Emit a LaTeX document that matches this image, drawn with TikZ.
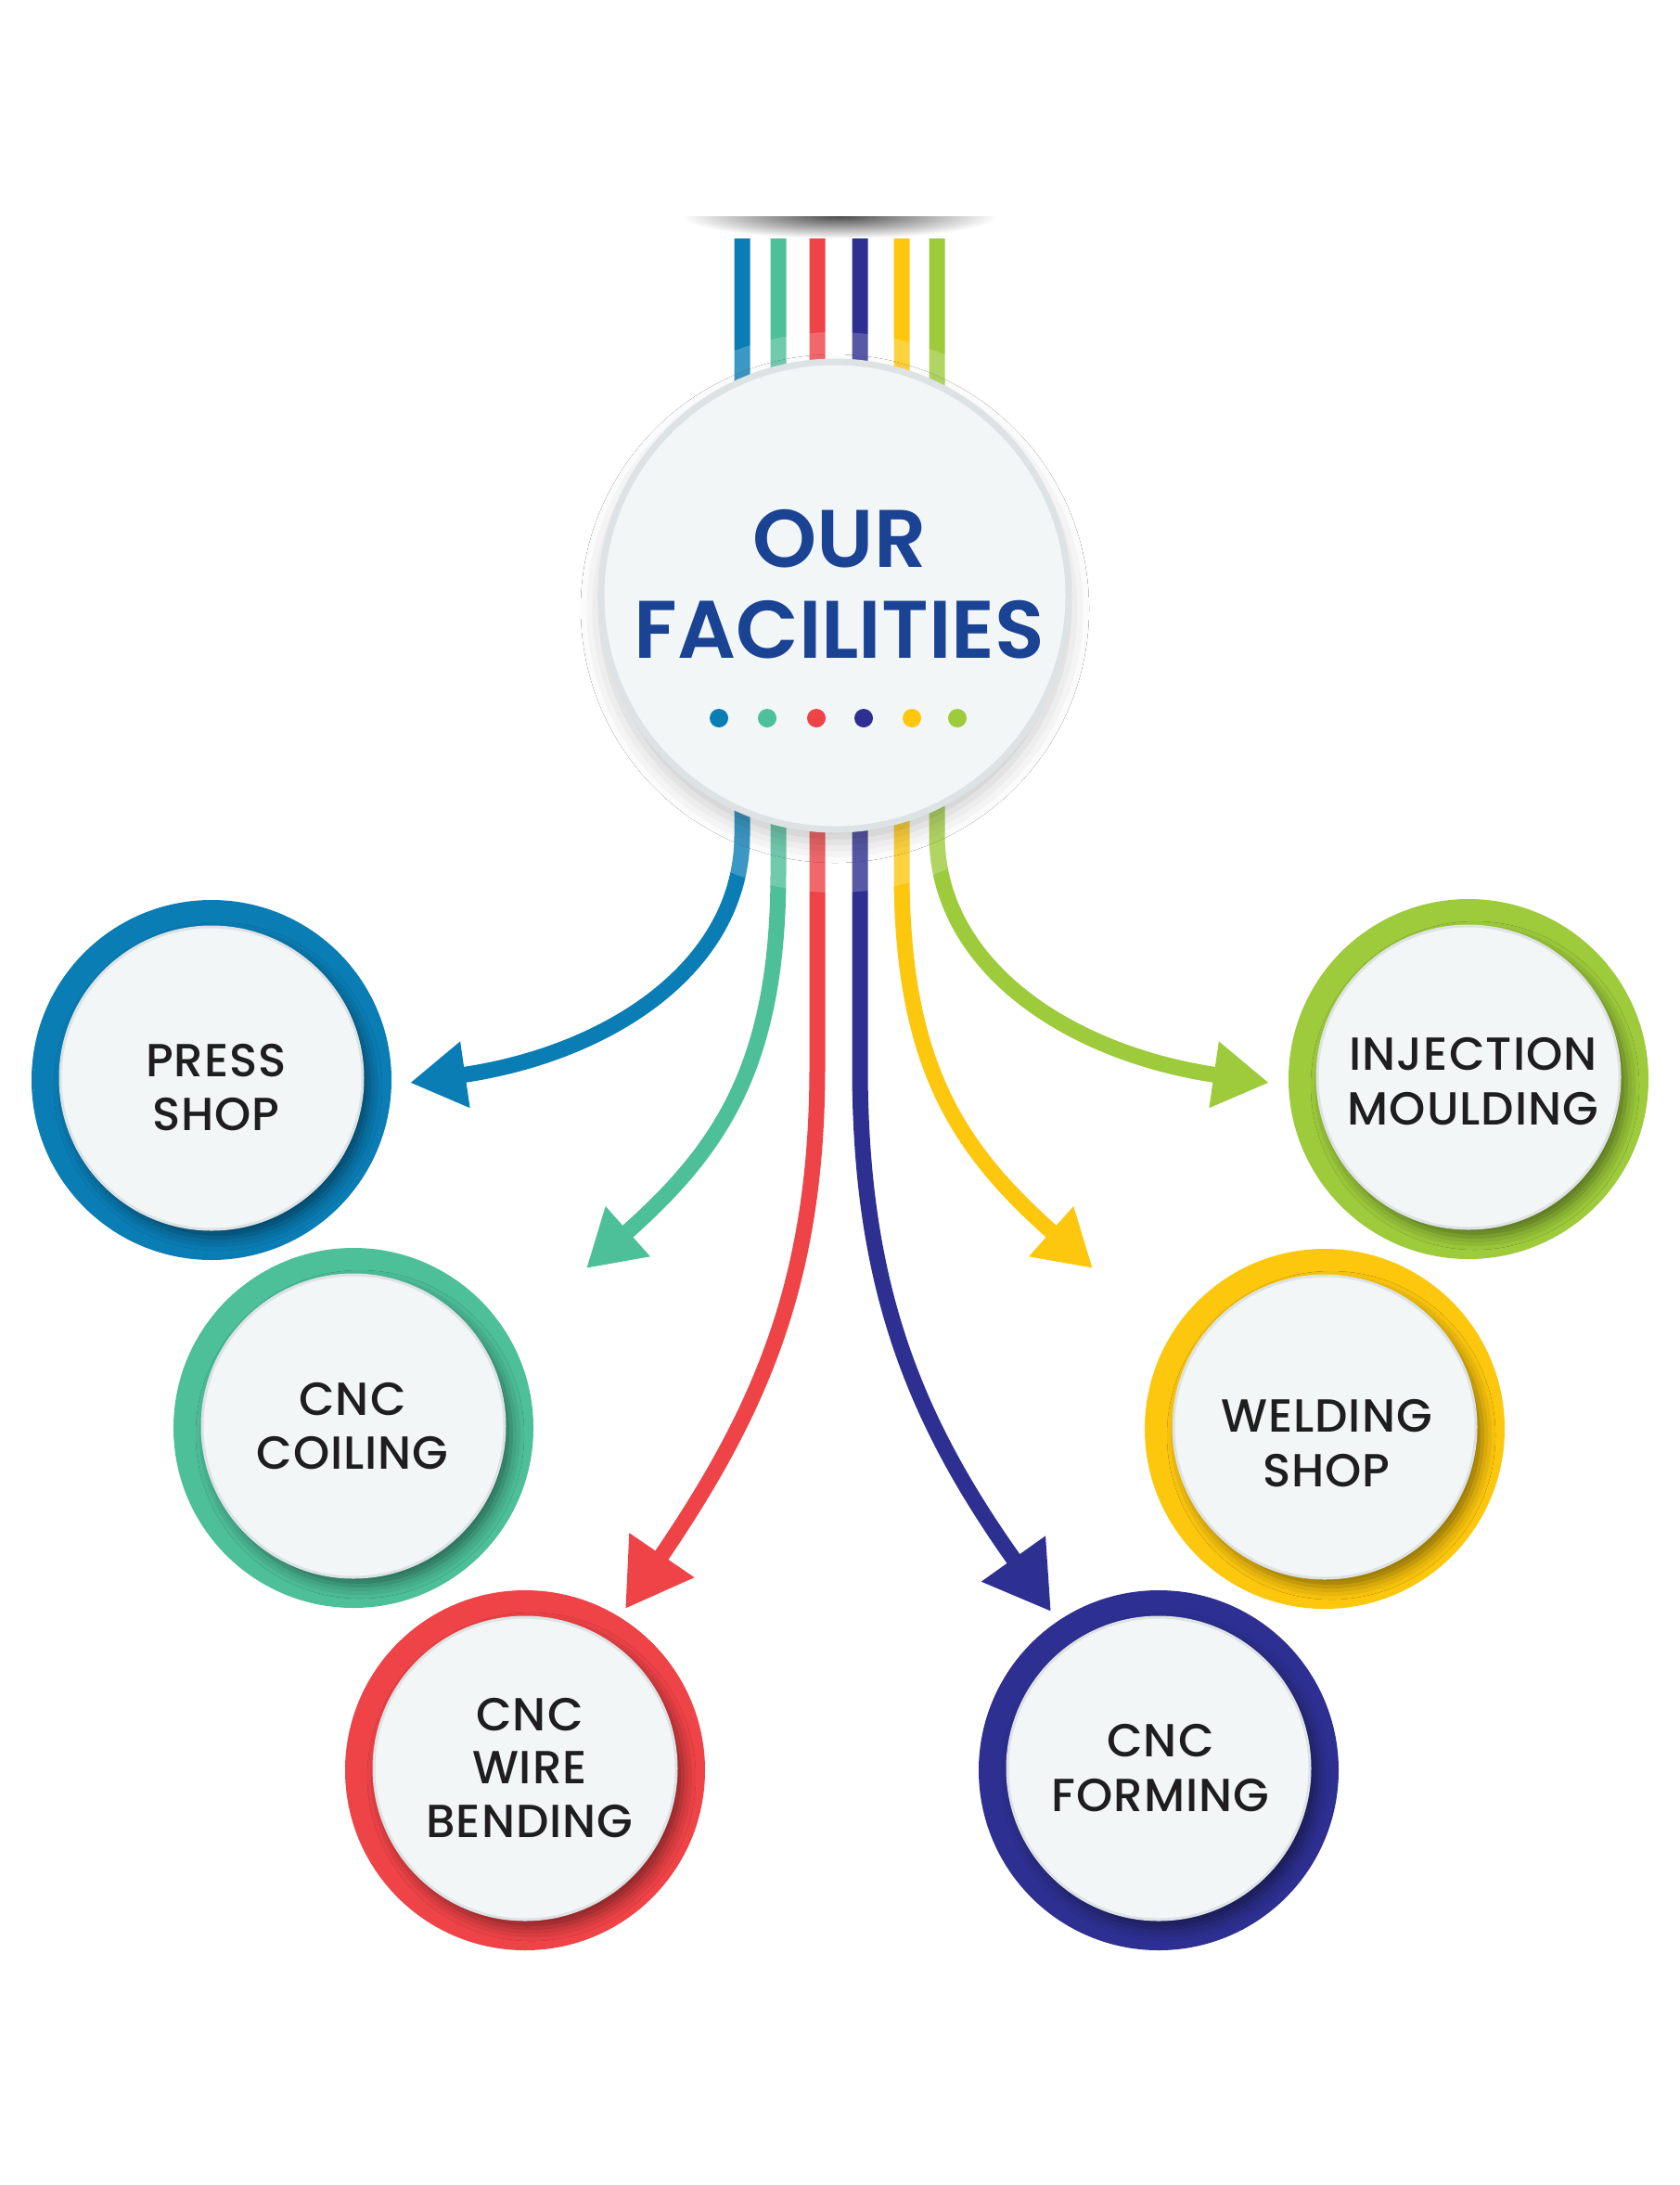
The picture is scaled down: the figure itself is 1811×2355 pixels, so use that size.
\documentclass[tikz,border=0pt]{standalone}
\usepackage{fontspec}
\setmainfont{Poppins}
\IfFontExistsTF{Poppins Medium}
  {\newfontfamily\lblfont{Poppins Medium}[LetterSpace=2]}
  {\newfontfamily\lblfont{Poppins}[FakeBold=1.3,LetterSpace=2]}
\IfFontExistsTF{Poppins SemiBold}
  {\newfontfamily\ttlfont{Poppins SemiBold}}
  {\newfontfamily\ttlfont{Poppins}[FakeBold=2.5]}
\usetikzlibrary{arrows.meta,shadows.blur}
\definecolor{cBlue}{HTML}{0A7DB5}
\definecolor{cTeal}{HTML}{4DBF99}
\definecolor{cRed}{HTML}{EE4347}
\definecolor{cNavy}{HTML}{2E3091}
\definecolor{cYellow}{HTML}{FDC70E}
\definecolor{cGreen}{HTML}{9DCB3B}
\definecolor{titleBlue}{HTML}{1A4393}
\definecolor{labelText}{HTML}{1E1E1E}
\definecolor{discFill}{HTML}{F3F6F7}
\definecolor{discRim}{HTML}{DDE2E4}
\begin{document}
\begin{tikzpicture}[x=1pt,y=-1pt,
  conn/.style={line width=17pt, line cap=butt},
  headS/.style={-{Triangle[length=60pt,width=68pt]}},
  headL/.style={-{Triangle[length=70pt,width=80pt]}},
  ring/.style={circle, fill=#1, minimum size=388pt, inner sep=0pt},
  disc/.style={circle, fill=discFill, draw=discRim, line width=3pt, minimum size=326pt, inner sep=0pt,
    blur shadow={shadow xshift=7pt, shadow yshift=-9pt, shadow blur radius=14pt, shadow opacity=45}},
  lbl/.style={font=\lblfont\fontsize{50}{58}\selectfont, text=labelText, anchor=base, inner sep=0pt},
  ttl/.style={font=\ttlfont\fontsize{88}{98}\selectfont, text=titleBlue, anchor=base, inner sep=0pt},
  dot/.style={circle, fill=#1, minimum size=20pt, inner sep=0pt}
]
\useasboundingbox[fill=white] (0,0) rectangle (1811,2355);

% slot shadow at the top
\begin{scope}
  \clip (700,233) rectangle (1110,262);
  \shade[inner color=black!70, outer color=white] (905,233) ellipse (170 and 24);
\end{scope}

% start and end points of the six connectors
\coordinate (sBlue) at (800,257);
\coordinate (sTeal) at (839,257);
\coordinate (sRed) at (881,257);
\coordinate (sNavy) at (927,257);
\coordinate (sYellow) at (972,257);
\coordinate (sGreen) at (1010,257);
\coordinate (eBlue) at (442,1167);
\coordinate (eTeal) at (632,1367);
\coordinate (eRed) at (674,1734);
\coordinate (eNavy) at (1133,1737);
\coordinate (eYellow) at (1178,1367);
\coordinate (eGreen) at (1368,1167);

% connectors
\draw[conn, cBlue, headS] (sBlue) -- (800,900) .. controls (800,1040) and (660,1135) .. (eBlue);
\draw[conn, cTeal, headS] (sTeal) -- (839,940) .. controls (839,1150) and (775,1240) .. (eTeal);
\draw[conn, cRed, headL] (sRed) -- (881,1150) .. controls (881,1380) and (820,1520) .. (eRed);
\draw[conn, cNavy, headL] (sNavy) -- (927,1150) .. controls (927,1380) and (982,1525) .. (eNavy);
\draw[conn, cYellow, headS] (sYellow) -- (972,940) .. controls (972,1150) and (1035,1240) .. (eYellow);
\draw[conn, cGreen, headS] (sGreen) -- (1010,900) .. controls (1010,1040) and (1150,1135) .. (eGreen);

% light band where the lines meet the hub
\fill[white, opacity=0.2] (900,660) circle (302);

% hub
\node[circle, minimum size=504pt, inner sep=0pt, fill=discFill, draw=discRim, line width=7pt,
  blur shadow={shadow xshift=0pt, shadow yshift=-14pt, shadow blur radius=22pt, shadow opacity=22}]
  (hub) at (900,642) {};
\node[ttl] (tOur) at (905,611) {OUR};
\node[ttl] (tFac) at (905,709) {FACILITIES};
\node[dot=cBlue] (d1) at (775,774) {};
\node[dot=cTeal] (d2) at (827,774) {};
\node[dot=cRed] (d3) at (880,774) {};
\node[dot=cNavy] (d4) at (931,774) {};
\node[dot=cYellow] (d5) at (983,774) {};
\node[dot=cGreen] (d6) at (1032,774) {};

% PRESS SHOP
\node[ring=cBlue] (pressR) at (228,1164) {};
\node[disc] (press) at (228,1162) {};
\node[lbl] (press1) at (233,1160) {PRESS};
\node[lbl] (press2) at (233,1218) {SHOP};

% CNC COILING
\node[ring=cTeal] (coilR) at (381,1539) {};
\node[disc] (coil) at (381,1537) {};
\node[lbl] (coil1) at (380,1525) {CNC};
\node[lbl] (coil2) at (380,1583) {COILING};

% CNC WIRE BENDING
\node[ring=cRed] (wireR) at (566,1908) {};
\node[disc] (wire) at (566,1906) {};
\node[lbl] (wire1) at (571,1865) {CNC};
\node[lbl] (wire2) at (571,1922) {WIRE};
\node[lbl] (wire3) at (571,1980) {BENDING};

% CNC FORMING
\node[ring=cNavy] (formR) at (1249,1908) {};
\node[disc] (form) at (1249,1906) {};
\node[lbl] (form1) at (1251,1893) {CNC};
\node[lbl] (form2) at (1251,1952) {FORMING};

% WELDING SHOP
\node[ring=cYellow] (weldR) at (1428,1540) {};
\node[disc] (weld) at (1428,1538) {};
\node[lbl] (weld1) at (1430,1543) {WELDING};
\node[lbl] (weld2) at (1430,1602) {SHOP};

% INJECTION MOULDING
\node[ring=cGreen] (injR) at (1583,1163) {};
\node[disc] (inj) at (1583,1161) {};
\node[lbl] (inj1) at (1588,1153) {INJECTION};
\node[lbl] (inj2) at (1588,1212) {MOULDING};
\end{tikzpicture}
\end{document}
